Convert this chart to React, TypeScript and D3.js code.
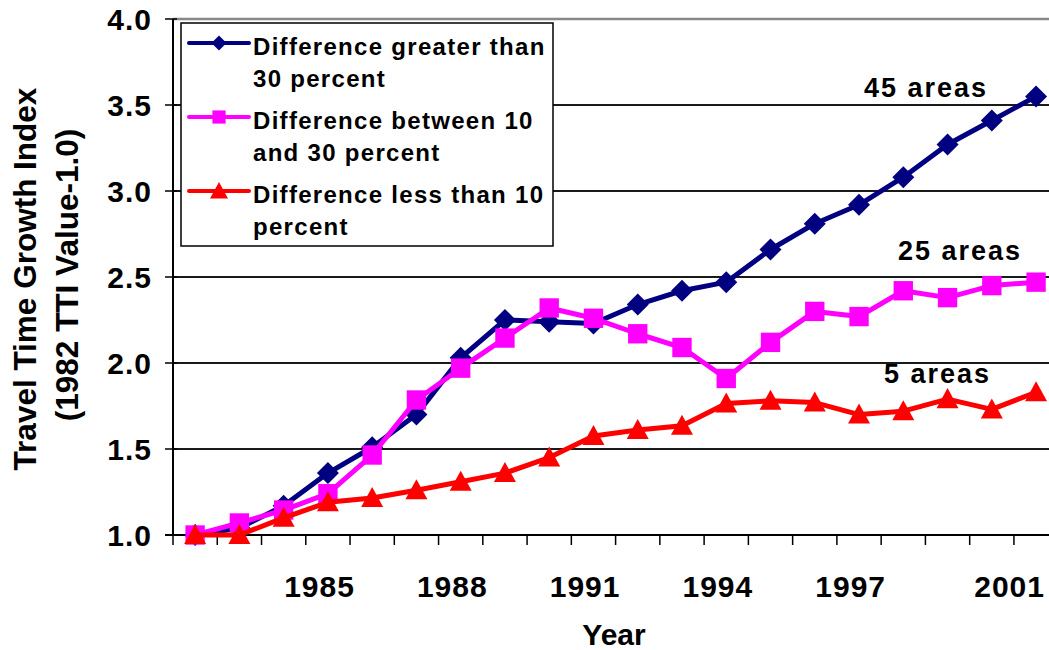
import React from "react";
import * as d3 from "d3";

const years = ["1982","1983","1984","1985","1986","1987","1988","1989","1990","1991","1992","1993","1994","1995","1996","1997","1998","1999","2000","2001"];
const greater30 = [1.00, 1.04, 1.17, 1.36, 1.51, 1.70, 2.03, 2.25, 2.24, 2.23, 2.34, 2.42, 2.47, 2.66, 2.81, 2.92, 3.08, 3.27, 3.41, 3.55];
const between10and30 = [1.00, 1.07, 1.145, 1.24, 1.465, 1.785, 1.97, 2.145, 2.32, 2.26, 2.17, 2.09, 1.91, 2.12, 2.30, 2.27, 2.42, 2.38, 2.45, 2.47];
const less10 = [1.00, 1.00, 1.10, 1.19, 1.215, 1.26, 1.31, 1.36, 1.45, 1.575, 1.61, 1.635, 1.765, 1.78, 1.77, 1.70, 1.72, 1.79, 1.73, 1.83];
const xTickLabels = ["1985","1988","1991","1994","1997","2001"];
const yTicks = [1.0, 1.5, 2.0, 2.5, 3.0, 3.5, 4.0];
const legendLines = [
  ["Difference greater than", "30 percent"],
  ["Difference between 10", "and 30 percent"],
  ["Difference less than 10", "percent"],
];
const areaLabels = ["45 areas", "25 areas", "5 areas"];

const FONT = "'Liberation Sans', Arial, Helvetica, sans-serif";
const W = 1049, H = 650;
const X0 = 173, BAND = 44.26;
const Y_TOP = 19, Y_BOT = 535;

const series = [
  { name: "g30", values: greater30, color: "#000080", marker: "diamond" },
  { name: "b1030", values: between10and30, color: "#FF00FF", marker: "square" },
  { name: "l10", values: less10, color: "#FF0000", marker: "triangle" },
];

function markerPath(kind: string, s: number) {
  if (kind === "diamond") return `M0,${-s} L${s},0 L0,${s} L${-s},0 Z`;
  if (kind === "square") return `M${-s * 0.88},${-s * 0.88} H${s * 0.88} V${s * 0.88} H${-s * 0.88} Z`;
  return `M0,${-s} L${s},${s * 0.82} L${-s},${s * 0.82} Z`;
}

export default function App() {
  const x = d3.scaleBand<string>().domain(years).range([X0, X0 + BAND * years.length]).padding(0);
  const y = d3.scaleLinear().domain([1, 4]).range([Y_BOT, Y_TOP]);
  const cx = (yr: string) => (x(yr) as number) + x.bandwidth() / 2;
  const line = d3.line<number>().x((_, i) => cx(years[i])).y((v) => y(v));

  const areaPos = [
    { x: 988, v: 3.547 },
    { x: 1022, v: 2.599 },
    { x: 991, v: 1.884 },
  ];

  return (
    <svg width={W} height={H} style={{ position: "absolute", left: 0, top: 0, background: "#fff" }} fontFamily={FONT}>
      {/* gridlines */}
      {yTicks.filter((t) => t > 1).map((t) => (
        <line key={t} x1={X0} x2={W} y1={y(t)} y2={y(t)} stroke={t === 4 ? "#888" : "#1a1a1a"} strokeWidth={t === 4 ? 2.5 : 1.8} />
      ))}
      {/* y axis */}
      <line x1={X0} x2={X0} y1={Y_TOP} y2={Y_BOT + 1} stroke="#000" strokeWidth={2} />
      {yTicks.map((t) => (
        <g key={t}>
          <line x1={X0 - 8} x2={X0 + 4} y1={y(t)} y2={y(t)} stroke="#000" strokeWidth={1.5} />
          <text x={152} y={y(t)} dy="0.36em" textAnchor="end" fontSize={30} fontWeight="bold" letterSpacing={1}>
            {t.toFixed(1)}
          </text>
        </g>
      ))}
      {/* x axis */}
      <line x1={X0 - 8} x2={W} y1={Y_BOT} y2={Y_BOT} stroke="#000" strokeWidth={2} />
      {years.map((yr) => (
        <line key={yr} x1={x(yr) as number} x2={x(yr) as number} y1={Y_BOT} y2={Y_BOT + 10} stroke="#000" strokeWidth={1.5} />
      ))}
      {xTickLabels.map((lab) => {
        const c = cx(lab) - 8;
        const right = Math.min(c + 35, 1045);
        return (
          <text key={lab} x={right} y={597} textAnchor="end" fontSize={30} fontWeight="bold" letterSpacing={1}>
            {lab}
          </text>
        );
      })}
      <text x={614} y={645} textAnchor="middle" fontSize={30} fontWeight="bold">Year</text>
      {/* y title */}
      <g transform={`translate(36, 279) rotate(-90)`}>
        <text x={0} y={0} textAnchor="middle" fontSize={31.5} fontWeight="bold">Travel Time Growth Index</text>
        <text x={4} y={42} textAnchor="middle" fontSize={31.5} fontWeight="bold">(1982 TTI Value-1.0)</text>
      </g>
      {/* series */}
      {series.map((s) => (
        <g key={s.name}>
          <path d={line(s.values) as string} fill="none" stroke={s.color} strokeWidth={5} strokeLinejoin="round" />
          {s.values.map((v, i) => (
            <path key={i} d={markerPath(s.marker, 11)} transform={`translate(${cx(years[i])},${y(v)})`} fill={s.color} />
          ))}
        </g>
      ))}
      {/* area labels */}
      {areaLabels.map((lab, i) => (
        <text key={lab} x={areaPos[i].x} y={y(areaPos[i].v)} textAnchor="end" fontSize={27} fontWeight="bold" letterSpacing={2}>
          {lab}
        </text>
      ))}
      {/* legend */}
      <rect x={181} y={23} width={372} height={223} fill="#fff" stroke="#000" strokeWidth={1.5} />
      {series.map((s, i) => {
        const base = [55, 129, 203][i];
        const ly = base - 12;
        return (
          <g key={s.name}>
            <line x1={189} x2={249} y1={ly} y2={ly} stroke={s.color} strokeWidth={4} strokeLinecap="round" />
            <path d={markerPath(s.marker, s.marker === "triangle" ? 9 : 7.5)} transform={`translate(219,${ly})`} fill={s.color} />
            {legendLines[i].map((t, j) => (
              <text key={j} x={253} y={base + j * 32} fontSize={24} fontWeight="bold" letterSpacing={1.3}>
                {t}
              </text>
            ))}
          </g>
        );
      })}
    </svg>
  );
}
